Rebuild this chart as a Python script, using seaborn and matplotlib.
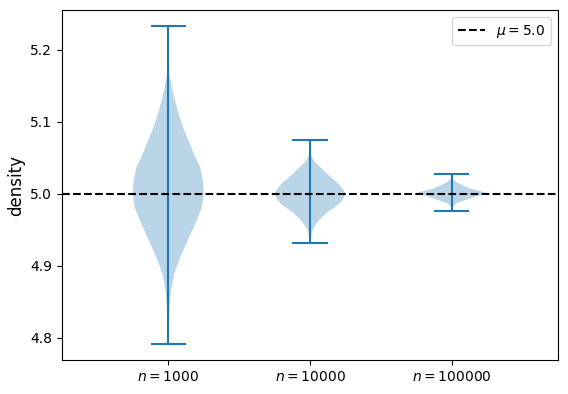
import numpy as np
import matplotlib
matplotlib.use("Agg")
import matplotlib.pyplot as plt
import seaborn as sns

# valores
mu = 5.0
positions = [1, 2, 3]
tick_labels = [r"$n = 1000$", r"$n = 10000$", r"$n = 100000$"]

# perfil de densidad (coordenada y, ancho relativo) de cada violin
coords_1000 = [4.791, 4.829, 4.843, 4.866, 4.889, 4.912, 4.935, 4.958, 4.981, 5.0,
               5.018, 5.037, 5.051, 5.074, 5.097, 5.120, 5.143, 5.167, 5.20, 5.233]
vals_1000 = [0, 0.02, 0.04, 0.08, 0.17, 0.34, 0.55, 0.76, 0.95, 1.0,
             0.98, 0.90, 0.76, 0.57, 0.38, 0.24, 0.12, 0.03, 0.005, 0]

coords_10000 = [4.931, 4.947, 4.956, 4.965, 4.974, 4.984, 4.991, 5.0,
                5.007, 5.016, 5.025, 5.035, 5.044, 5.053, 5.058, 5.075]
vals_10000 = [0, 0.05, 0.15, 0.29, 0.49, 0.78, 0.92, 1.0,
              0.92, 0.76, 0.54, 0.33, 0.14, 0.03, 0.01, 0]

coords_100000 = [4.976, 4.982, 4.987, 4.991, 4.996, 5.0,
                 5.003, 5.007, 5.012, 5.017, 5.022, 5.027]
vals_100000 = [0, 0.03, 0.14, 0.38, 0.67, 1.0,
               0.86, 0.52, 0.29, 0.10, 0.02, 0]

profiles = [(coords_1000, vals_1000), (coords_10000, vals_10000), (coords_100000, vals_100000)]

color = sns.color_palette("tab10")[0]

vpstats = []
for coords, vals in profiles:
    coords = np.array(coords)
    vpstats.append({
        "coords": coords,
        "vals": np.array(vals, dtype=float),
        "mean": mu,
        "median": mu,
        "min": coords.min(),
        "max": coords.max(),
        "quantiles": [],
    })

fig = plt.figure(figsize=(5.68, 3.94), dpi=100)
ax = fig.add_axes([62 / 568, 34 / 394, 496 / 568, 350 / 394])

parts = ax.violin(vpstats, positions=positions, widths=0.5, showextrema=True)
for body in parts["bodies"]:
    body.set_facecolor(color)
    body.set_alpha(0.3)
for key in ("cmaxes", "cmins", "cbars"):
    parts[key].set_color(color)

ax.axhline(mu, color="k", linestyle="--", label=rf"$\mu = {mu}$")
ax.legend(loc="upper right")

ax.set_xticks(positions)
ax.set_xticklabels(tick_labels)
ax.set_xlim(0.25, 3.75)
ax.set_ylabel("density", fontsize=12)

fig.savefig("out.png", dpi=100)
